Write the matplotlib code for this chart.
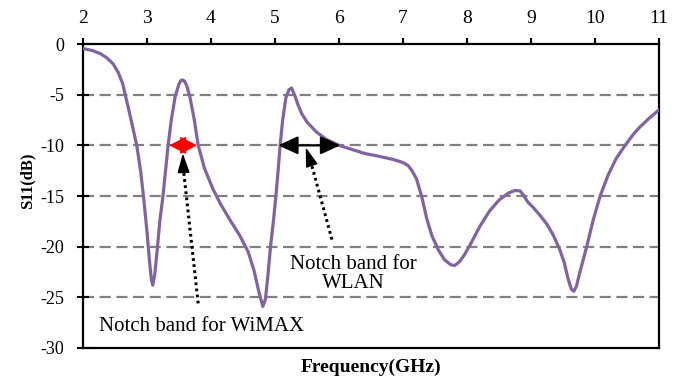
import matplotlib
matplotlib.use("Agg")
import matplotlib.pyplot as plt

plt.rcParams['font.family'] = ['Liberation Serif', 'DejaVu Serif']
plt.rcParams['axes.unicode_minus'] = False

#### data ######################################################################

freq = [2.00, 2.15, 2.27, 2.37, 2.47, 2.55, 2.62, 2.66, 2.72, 2.78, 2.84, 2.90,
        2.95, 3.00, 3.04, 3.07, 3.09, 3.12, 3.16, 3.20, 3.25, 3.29, 3.33, 3.38,
        3.44, 3.50, 3.53, 3.56, 3.59, 3.62, 3.67, 3.74, 3.80, 3.90, 4.03, 4.15,
        4.30, 4.45, 4.58, 4.67, 4.75, 4.81, 4.85, 4.89, 4.93, 4.98, 5.02, 5.05,
        5.08, 5.12, 5.17, 5.22, 5.26, 5.31, 5.36, 5.42, 5.50, 5.65, 5.80, 6.00,
        6.20, 6.40, 6.64, 6.85, 7.00, 7.08, 7.14, 7.21, 7.29, 7.37, 7.45, 7.55,
        7.65, 7.75, 7.81, 7.88, 7.96, 8.05, 8.20, 8.35, 8.50, 8.65, 8.75, 8.83,
        8.88, 8.95, 9.03, 9.14, 9.25, 9.35, 9.45, 9.52, 9.58, 9.63, 9.67, 9.71,
        9.76, 9.87, 9.97, 10.08, 10.20, 10.33, 10.47, 10.60, 10.70, 10.85, 11.00]
s11 = [-0.45, -0.65, -0.95, -1.35, -1.95, -2.8, -3.9, -5.0, -6.6, -8.3, -10.0, -12.5,
       -15.3, -18.5, -21.5, -23.3, -23.8, -22.8, -20.3, -17.5, -15.0, -12.5, -10.0, -7.5,
       -5.2, -3.95, -3.6, -3.55, -3.7, -4.1, -5.2, -7.5, -10.0, -12.3, -14.3, -15.8,
       -17.4, -18.9, -20.5, -22.3, -24.5, -25.9, -25.2, -22.8, -20.0, -17.2, -14.6, -12.4,
       -10.0, -7.5, -5.3, -4.5, -4.35, -5.1, -6.0, -6.9, -7.7, -8.7, -9.4, -10.0,
       -10.4, -10.8, -11.1, -11.4, -11.7, -12.0, -12.5, -13.3, -15.0, -17.2, -18.9, -20.3,
       -21.3, -21.8, -21.85, -21.5, -20.8, -19.8, -18.0, -16.5, -15.4, -14.7, -14.45, -14.5,
       -14.9, -15.6, -16.1, -16.9, -17.8, -18.9, -20.3, -21.6, -23.2, -24.2, -24.4, -23.9,
       -22.6, -20.0, -17.4, -15.0, -13.0, -11.3, -10.0, -8.9, -8.2, -7.3, -6.5]

xticks = [2, 3, 4, 5, 6, 7, 8, 9, 10, 11]
yticks = [0, -5, -10, -15, -20, -25, -30]
gridlevels = [-5, -10, -15, -20, -25]

wimax_band = (3.35, 3.78)
wlan_band = (5.05, 6.02)

# pointer: (tail x, tail y, head base x, head base y, tip x, tip y)
wimax_ptr = (3.80, -25.6, 3.57, -12.4, 3.56, -10.8)
wlan_ptr = (5.89, -19.3, 5.58, -12.1, 5.48, -10.2)

#### plot ######################################################################

fig = plt.figure(figsize=(6.84, 3.83), dpi=100)
ax = fig.add_axes([0.1213, 0.0914, 0.8422, 0.7937])

for g in gridlevels:
    ax.axhline(g, color='#808080', lw=1.6, ls=(0, (5, 2.5)), zorder=1)

ax.plot(freq, s11, color='#8064A2', lw=2.3, zorder=3)

# band markers
ax.annotate('', xy=(wimax_band[0], -10), xytext=(wimax_band[1], -10),
            arrowprops=dict(arrowstyle='<|-|>,head_length=1.05,head_width=0.55',
                            color='red', lw=1, shrinkA=0, shrinkB=0), zorder=4)
ax.annotate('', xy=(wlan_band[0], -10), xytext=(wlan_band[1], -10),
            arrowprops=dict(arrowstyle='<|-|>,head_length=1.2,head_width=0.55',
                            color='black', lw=1.6, shrinkA=0, shrinkB=0), zorder=4)

# dotted pointers with solid heads
for tx, ty, bx, by, hx, hy in [wimax_ptr, wlan_ptr]:
    ax.plot([tx, bx], [ty, by], color='black', lw=2.2, ls=(0, (0.9, 1.1)), zorder=5)
    ax.annotate('', xy=(hx, hy), xytext=(bx, by),
                arrowprops=dict(arrowstyle='-|>,head_length=1.2,head_width=0.38',
                                color='black', lw=1, shrinkA=0, shrinkB=0), zorder=5)

ax.text(3.86, -27.9, 'Notch band for WiMAX', fontsize=15, ha='center', va='center')
ax.text(6.22, -22.7, 'Notch band for\nWLAN', fontsize=15, ha='center', va='center',
        linespacing=1.05)

ax.set_xlim(2, 11)
ax.set_ylim(-30, 0)
ax.set_xticks(xticks)
ax.set_yticks(yticks)
ax.xaxis.tick_top()
ax.tick_params(axis='x', direction='out', length=4, width=1.5, labelsize=14, pad=8)
ax.tick_params(axis='y', direction='inout', length=9, width=1.5, labelsize=13, pad=9)
for sp in ax.spines.values():
    sp.set_linewidth(1.6)

ax.set_xlabel('Frequency(GHz)', fontsize=14, fontweight='bold')
ax.xaxis.set_label_position('bottom')
ax.xaxis.set_label_coords(0.5, -0.035)
ax.set_ylabel('S11(dB)', fontsize=12, fontweight='bold')
ax.yaxis.set_label_coords(-0.082, 0.55)

fig.savefig('out.png', dpi=100)
plt.close()
